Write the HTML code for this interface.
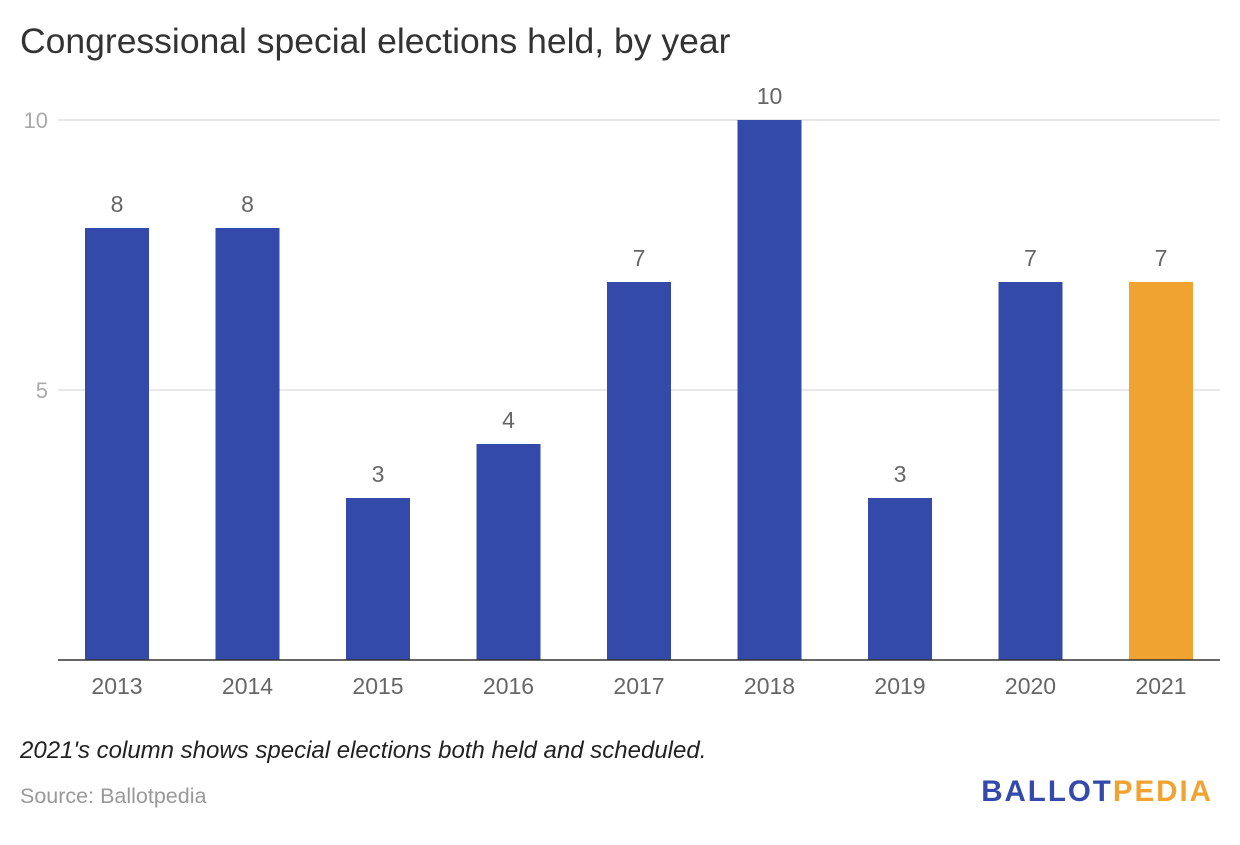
<!DOCTYPE html>
<html><head><meta charset="utf-8"><style>
body{margin:0;background:#fff;width:1240px;height:840px;overflow:hidden;font-family:"Liberation Sans",sans-serif}
</style></head><body>
<svg width="1240" height="840" xmlns="http://www.w3.org/2000/svg">
<text x="20" y="53" font-size="35.5" fill="#333">Congressional special elections held, by year</text>
<g id="grid"></g>
<g id="bars"></g>
<line x1="58" x2="1220" y1="660" y2="660" stroke="#333" stroke-width="1.5"/>
<text x="20" y="758" font-size="24" font-style="italic" fill="#222">2021's column shows special elections both held and scheduled.</text>
<text x="20" y="803" font-size="21.5" fill="#999">Source: Ballotpedia</text>
<text x="1213" y="801" font-size="29.5" font-weight="bold" text-anchor="end" letter-spacing="2"><tspan fill="#3349ac">BALLOT</tspan><tspan fill="#f0a331">PEDIA</tspan></text>
</svg>
<script>
const years=["2013","2014","2015","2016","2017","2018","2019","2020","2021"];
const counts=[8,8,3,4,7,10,3,7,7];
const yTicks=[5,10];
const NS="http://www.w3.org/2000/svg";
const y0=660,pxPerUnit=54,bandStart=51.75,band=130.5,barW=64;
const yS=v=>y0-v*pxPerUnit;
const xC=i=>bandStart+band*i+band/2;
const grid=document.getElementById('grid'),bars=document.getElementById('bars');
function mk(tag,attrs,parent,txt){const e=document.createElementNS(NS,tag);for(const k in attrs)e.setAttribute(k,attrs[k]);if(txt!=null)e.textContent=txt;parent.appendChild(e);return e;}
yTicks.forEach(t=>{
  const l=mk('line',{x1:58,x2:1220,y1:yS(t),y2:yS(t),stroke:'#e0e0e0','stroke-width':1.5},grid);
  
  
  const tx=mk('text',{x:48,y:yS(t)+8,'font-size':22,fill:'#aaa','text-anchor':'end'},grid,String(t));
  
  
});
years.forEach((yr,i)=>{
  const v=counts[i];
  const r=mk('rect',{x:xC(i)-barW/2,y:yS(v),width:barW,height:y0-yS(v),fill:i===years.length-1?'#f0a331':'#334aab'},bars);
  
  
  const lb=mk('text',{x:xC(i),y:yS(v)-16,'font-size':23,fill:'#666','text-anchor':'middle'},bars,String(v));
  
  
  const xl=mk('text',{x:xC(i),y:694,'font-size':23,fill:'#666','text-anchor':'middle'},bars,yr);
  
  
});
</script>
</body></html>
